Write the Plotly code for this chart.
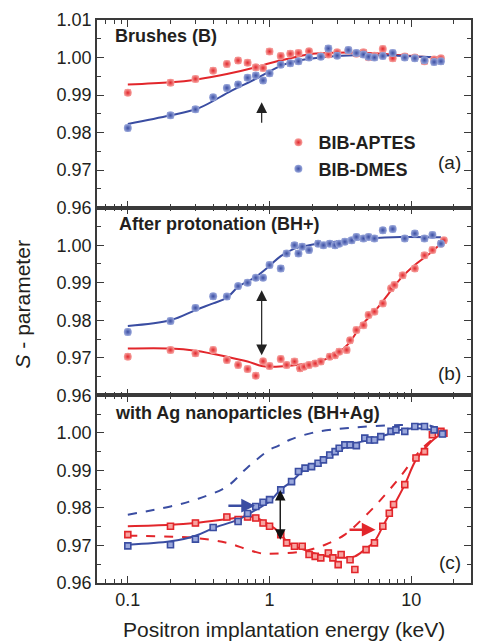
import math
import plotly.graph_objects as go
from plotly.subplots import make_subplots

# ---------------- data ----------------
# Panel (a) Brushes (B)
E_A = [0.1,0.2,0.3,0.4,0.5,0.6,0.7,0.8,0.9,1.0,1.2,1.4,1.6,1.9,2.3,2.6,3.0,3.6,4.1,4.6,5.0,5.5,6.3,7.4,9.0,10.6,12.4,14.5,16.2]
S_A_APTES = [0.9906,0.9933,0.9943,0.9965,0.9983,0.9992,0.9986,0.9974,0.9972,1.0016,1.0004,1.0010,1.0012,1.0017,1.0005,1.0008,1.0014,1.0018,1.0010,1.0014,1.0001,1.0005,1.0023,0.9998,1.0003,1.0000,0.9990,0.9995,0.9998]
S_A_DMES = [0.9812,0.9846,0.9862,0.9894,0.9919,0.9928,0.9946,0.9952,0.9939,0.9958,0.9981,0.9985,0.9990,1.0000,1.0002,1.0024,1.0005,1.0020,1.0012,1.0008,1.0002,1.0000,1.0004,1.0012,1.0000,0.9998,0.9993,0.9988,0.9990]
FIT_A_APTES_E = [0.1,0.2,0.3,0.5,0.8,1.0,1.4,2.0,3.0,5.0,8.0,12.0,16.2]
FIT_A_APTES_S = [0.9928,0.9934,0.9941,0.9956,0.9974,0.9985,0.9998,1.0010,1.0013,1.0012,1.0007,1.0002,1.0000]
FIT_A_DMES_E = [0.1,0.2,0.32,0.54,0.8,1.22,1.6,2.7,4.0,8.0,12.0,16.2]
FIT_A_DMES_S = [0.9823,0.9846,0.9866,0.9912,0.9943,0.9979,0.9992,1.0003,1.0006,1.0005,1.0002,1.0000]

# Panel (b) After protonation (BH+)
E_B_DMES = [0.1,0.2,0.3,0.4,0.5,0.6,0.7,0.8,0.9,1.0,1.2,1.32,1.5,1.6,1.7,1.9,2.2,2.4,2.66,2.9,3.1,3.4,3.8,4.1,4.6,5.0,5.5,6.3,7.4,9.0,10.6,12.4,14.1,16.2]
S_B_DMES = [0.9769,0.9798,0.9833,0.9864,0.9863,0.9891,0.9900,0.9913,0.9913,0.9947,0.9938,0.9978,1.0000,0.9978,0.9996,0.9987,1.0004,1.0000,1.0004,1.0000,1.0004,1.0009,1.0013,1.0022,1.0018,1.0022,1.0018,1.0040,1.0043,1.0018,1.0031,1.0018,1.0027,1.0004]
E_B_APTES = [0.1,0.2,0.3,0.4,0.5,0.6,0.7,0.8,0.9,1.0,1.2,1.32,1.5,1.64,1.75,1.9,2.1,2.3,2.66,2.9,3.1,3.5,3.7,4.1,4.6,5.0,5.5,6.3,7.2,7.6,8.7,10.6,12.4,14.1,16.2,17.0]
S_B_APTES = [0.9703,0.9721,0.9712,0.9721,0.9694,0.9681,0.9670,0.9652,0.9691,0.9678,0.9697,0.9681,0.9690,0.9672,0.9676,0.9681,0.9685,0.9690,0.9703,0.9707,0.9716,0.9721,0.9747,0.9774,0.9787,0.9814,0.9823,0.9845,0.9885,0.9894,0.9920,0.9938,0.9973,0.9987,1.0004,1.0013]
FIT_B_DMES_E = [0.1,0.2,0.3,0.4,0.5,0.6,0.8,1.0,1.2,1.5,1.9,2.9,5.0,8.4,16.2]
FIT_B_DMES_S = [0.9785,0.9800,0.9827,0.9845,0.9860,0.9889,0.9916,0.9945,0.9971,0.9991,1.0000,1.0009,1.0018,1.0022,1.0021]
FIT_B_APTES_E = [0.1,0.2,0.3,0.5,0.7,0.88,1.0,1.7,2.2,2.9,3.6,4.4,5.5,6.8,8.4,10.6,13.5,16.2,17.0]
FIT_B_APTES_S = [0.9725,0.9725,0.9719,0.9703,0.9690,0.9678,0.9676,0.9683,0.9690,0.9707,0.9737,0.9784,0.9823,0.9867,0.9911,0.9947,0.9978,1.0004,1.0010]

# Panel (c) with Ag nanoparticles (BH+Ag)
E_C_DMES = [0.1,0.2,0.3,0.4,0.6,0.7,0.8,0.9,1.0,1.2,1.43,1.6,1.78,1.98,2.2,2.4,2.66,2.9,3.1,3.4,3.7,4.1,4.7,5.1,5.5,6.1,7.2,7.8,9.0,10.6,12.4,14.5,16.6]
S_C_DMES = [0.9699,0.9702,0.9717,0.9748,0.9764,0.9785,0.9804,0.9815,0.9822,0.9848,0.9870,0.9897,0.9906,0.9910,0.9919,0.9928,0.9941,0.9950,0.9959,0.9968,0.9968,0.9966,0.9986,0.9981,0.9981,0.9990,1.0004,1.0008,1.0004,1.0017,1.0017,1.0008,0.9997]
E_C_APTES = [0.1,0.2,0.3,0.5,0.6,0.7,0.8,0.9,1.0,1.2,1.32,1.5,1.7,1.9,2.1,2.3,2.6,2.8,3.05,3.2,3.7,4.0,4.8,5.5,6.3,7.0,7.5,9.0,10.8,12.4,14.1,16.2,17.0]
S_C_APTES = [0.9729,0.9751,0.9760,0.9776,0.9769,0.9776,0.9773,0.9760,0.9751,0.9729,0.9707,0.9698,0.9698,0.9676,0.9671,0.9667,0.9680,0.9667,0.9649,0.9676,0.9662,0.9636,0.9689,0.9707,0.9751,0.9786,0.9809,0.9862,0.9933,0.9950,0.9995,1.0004,0.9999]
FIT_C_DMES_E = [0.1,0.2,0.3,0.4,0.6,0.8,1.0,1.19,1.43,1.7,2.2,2.9,3.7,5.0,6.7,8.4,11.1,16.6]
FIT_C_DMES_S = [0.9702,0.9711,0.9726,0.9746,0.9769,0.9795,0.9817,0.9848,0.9870,0.9897,0.9919,0.9946,0.9968,0.9981,0.9995,1.0008,1.0012,1.0003]
FIT_C_APTES_E = [0.1,0.2,0.3,0.5,0.7,0.8,1.0,1.19,1.32,1.5,1.9,2.5,3.2,4.0,4.7,5.5,6.3,7.7,9.0,10.8,13.5,17.0]
FIT_C_APTES_S = [0.9751,0.9755,0.9760,0.9770,0.9777,0.9774,0.9755,0.9733,0.9711,0.9698,0.9684,0.9671,0.9667,0.9671,0.9689,0.9711,0.9751,0.9813,0.9862,0.9928,0.9973,1.0003]
REF_C_DMES_E = [0.1,0.2,0.3,0.5,0.69,1.0,1.16,1.38,2.0,3.6,8.4,13.0,16.1]
REF_C_DMES_S = [0.9782,0.9804,0.9822,0.9857,0.9906,0.9955,0.9966,0.9981,1.0000,1.0013,1.0021,1.0021,1.0008]
REF_C_APTES_E = [0.1,0.3,0.5,0.7,0.9,1.0,1.68,2.47,3.4,4.7,6.1,8.4,11.7,16.1]
REF_C_APTES_S = [0.9726,0.9720,0.9707,0.9689,0.9678,0.9678,0.9684,0.9702,0.9729,0.9777,0.9822,0.9884,0.9955,1.0000]

S_ERR = 0.0007

PANEL_TITLES = ["Brushes (B)", "After protonation (BH+)", "with Ag nanoparticles (BH+Ag)"]
PANEL_LABELS = ["(a)", "(b)", "(c)"]
SERIES_NAMES = ["BIB-APTES", "BIB-DMES"]

X_TICKS = [0.1, 1, 10]
X_TICK_TEXT = ["0.1", "1", "10"]
X_MINOR = [0.07,0.08,0.09,0.2,0.3,0.4,0.5,0.6,0.7,0.8,0.9,2,3,4,5,6,7,8,9,20]
Y_TICKS_TOP = [0.96,0.97,0.98,0.99,1.00,1.01]
Y_TICKS = [0.96,0.97,0.98,0.99,1.00]

# ---------------- styles ----------------
RED = "#e2262b"
RED_LIGHT = "#f7a3a0"
BLUE = "#3a4da2"
BLUE_LIGHT = "#9aa8dc"
FONT = "Liberation Sans, Arial, sans-serif"
TXT = "#231f20"
AX = "#3a3a3a"

fig = make_subplots(rows=3, cols=1, shared_xaxes=True, vertical_spacing=0)


def points(E, S, color, light, row, name=None, symbol="circle", legend=False):
    if symbol == "circle":
        marker = dict(symbol="circle", size=8, color=light,
                      gradient=dict(type="radial", color=color),
                      line=dict(width=0))
    else:
        marker = dict(symbol="square", size=6, color=light,
                      line=dict(width=1.6, color=color))
    fig.add_trace(go.Scatter(
        x=E, y=S, mode="markers", name=name, showlegend=legend,
        marker=marker,
        error_y=dict(type="constant", value=S_ERR, color=color, thickness=1.2, width=3),
    ), row=row, col=1)


def curve(E, S, color, row, dash="solid"):
    fig.add_trace(go.Scatter(
        x=E, y=S, mode="lines", showlegend=False, hoverinfo="skip",
        line=dict(color=color, width=2, shape="spline", smoothing=1.0, dash=dash),
    ), row=row, col=1)


# panel a
curve(FIT_A_APTES_E, FIT_A_APTES_S, RED, 1)
curve(FIT_A_DMES_E, FIT_A_DMES_S, BLUE, 1)
points(E_A, S_A_APTES, RED, RED_LIGHT, 1, SERIES_NAMES[0], legend=True)
points(E_A, S_A_DMES, BLUE, BLUE_LIGHT, 1, SERIES_NAMES[1], legend=True)
# panel b
curve(FIT_B_APTES_E, FIT_B_APTES_S, RED, 2)
curve(FIT_B_DMES_E, FIT_B_DMES_S, BLUE, 2)
points(E_B_APTES, S_B_APTES, RED, RED_LIGHT, 2)
points(E_B_DMES, S_B_DMES, BLUE, BLUE_LIGHT, 2)
# panel c
curve(REF_C_DMES_E, REF_C_DMES_S, BLUE, 3, dash="dash")
curve(REF_C_APTES_E, REF_C_APTES_S, RED, 3, dash="dash")
curve(FIT_C_APTES_E, FIT_C_APTES_S, RED, 3)
curve(FIT_C_DMES_E, FIT_C_DMES_S, BLUE, 3)
points(E_C_APTES, S_C_APTES, RED, RED_LIGHT, 3, symbol="square")
points(E_C_DMES, S_C_DMES, BLUE, BLUE_LIGHT, 3, symbol="square")

axis_common = dict(showline=True, linecolor=AX, linewidth=1.5, mirror="ticks",
                   ticks="inside", tickcolor=AX, tickwidth=1.3,
                   showgrid=False, zeroline=False,
                   tickfont=dict(family=FONT, size=18, color=TXT))

for r in range(1, 4):
    fig.update_xaxes(type="log", range=[-1.2175, 1.4216],
                     tickvals=X_TICKS, ticktext=X_TICK_TEXT, ticklen=7,
                     minor=dict(tickvals=X_MINOR, ticks="inside", ticklen=4,
                                tickcolor=AX, tickwidth=1.2),
                     **axis_common, row=r, col=1)
    yt = Y_TICKS_TOP if r == 1 else Y_TICKS
    fig.update_yaxes(range=[0.96, 1.01],
                     tickvals=yt, ticktext=[f"{v:.2f}" for v in yt],
                     ticklen=7,
                     minor=dict(dtick=0.005, tick0=0.96, ticks="inside", ticklen=4,
                                tickcolor=AX, tickwidth=1.2),
                     **axis_common, row=r, col=1)

annotations = []
yrefs = ["y", "y2", "y3"]
xrefs = ["x", "x2", "x3"]
title_y = [0.915, 0.915, 0.905]
title_x = [0.043, 0.053, 0.043]
label_y = [0.243, 0.118, 0.11]
for i in range(3):
    annotations.append(dict(text="<b>" + PANEL_TITLES[i] + "</b>", xref=xrefs[i] + " domain",
                            yref=yrefs[i] + " domain", x=title_x[i], y=title_y[i],
                            xanchor="left", yanchor="middle", showarrow=False,
                            font=dict(family=FONT, size=18, color=TXT)))
    annotations.append(dict(text=PANEL_LABELS[i], xref=xrefs[i] + " domain",
                            yref=yrefs[i] + " domain", x=0.979, y=label_y[i],
                            xanchor="right", yanchor="middle", showarrow=False,
                            font=dict(family=FONT, size=19, color=TXT)))

# arrows (energies in keV, converted to log10 for the log axes)
ARROWS = [
    # (xref, yref, x_head, y_head, x_tail, y_tail, color, side, width, size)
    ("x", "y", 0.88, 0.9881, 0.88, 0.9822, "#222222", "end", 1.2, 1.8),
    ("x2", "y2", 0.88, 0.9880, 0.88, 0.9703, "#222222", "end+start", 1.2, 1.8),
    ("x3", "y3", 1.19, 0.9848, 1.19, 0.9711, "#111111", "end+start", 1.4, 1.5),
    ("x3", "y3", 0.79, 0.9806, 0.50, 0.9806, BLUE, "end", 2.5, 1.1),
    ("x3", "y3", 5.6, 0.9742, 3.58, 0.9742, RED, "end", 2.5, 1.1),
]
for xr, yr, xh, yh, xt, yt_, col, side, w, s in ARROWS:
    annotations.append(dict(x=math.log10(xh), y=yh, ax=math.log10(xt), ay=yt_,
                            xref=xr, yref=yr, axref=xr, ayref=yr, text="",
                            showarrow=True, arrowhead=2, arrowside=side,
                            arrowwidth=w, arrowsize=s, arrowcolor=col))

annotations.append(dict(text="<i>S</i> - parameter", xref="paper", yref="paper",
                        x=-0.2, y=0.495, textangle=-90, showarrow=False,
                        xanchor="center", yanchor="middle",
                        font=dict(family=FONT, size=21, color=TXT)))
annotations.append(dict(text="Positron implantation energy (keV)", xref="paper", yref="paper",
                        x=0.5, y=-0.082, showarrow=False, xanchor="center", yanchor="middle",
                        font=dict(family=FONT, size=21, color=TXT)))

fig.update_layout(
    width=481, height=643,
    margin=dict(l=97, r=8, t=20, b=60),
    paper_bgcolor="white", plot_bgcolor="white",
    annotations=annotations,
    legend=dict(x=0.485, y=0.815, xanchor="left", yanchor="top",
                bgcolor="rgba(0,0,0,0)", borderwidth=0,
                font=dict(family=FONT, size=18, color=TXT),
                itemclick=False),
    font=dict(family=FONT, color=TXT),
)

for tr in fig.data:
    if tr.showlegend:
        tr.name = "<b>" + tr.name + "</b>"

fig.write_html("out.html")
